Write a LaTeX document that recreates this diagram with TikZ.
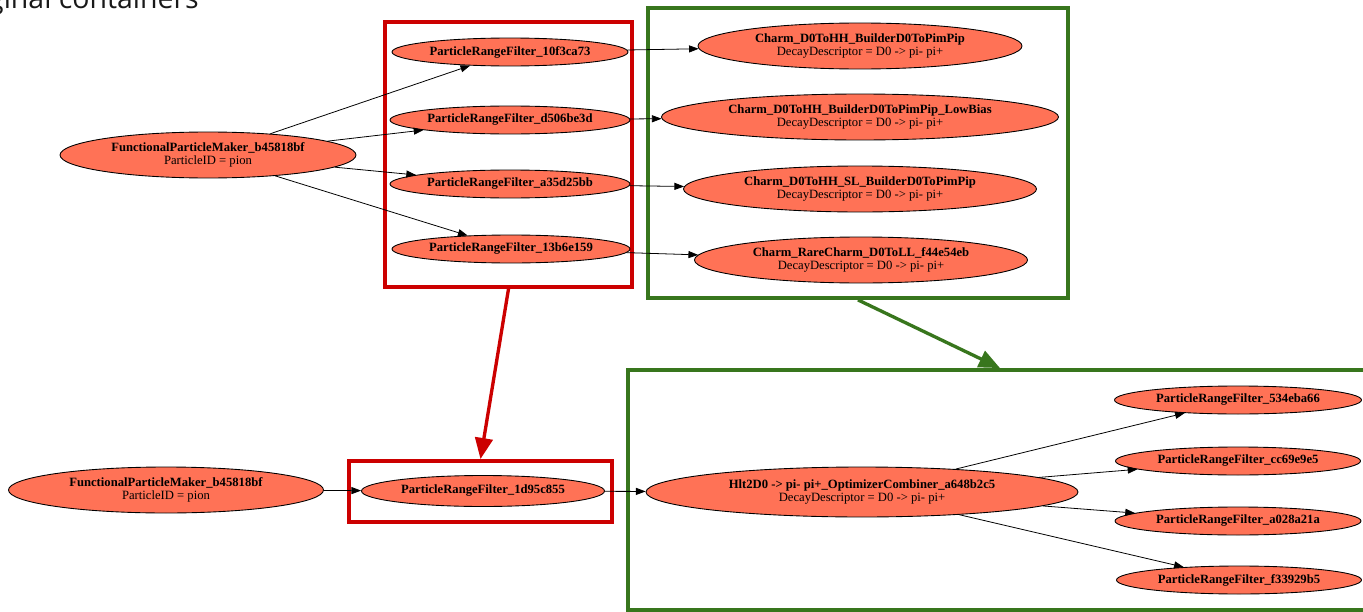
\documentclass[tikz,border=0pt]{standalone}
\usepackage{fontspec}
\setmainfont{Liberation Serif}
\newfontfamily\slidefont{Open Sans}
\usetikzlibrary{shapes.geometric, arrows.meta, fit}
\definecolor{coral}{RGB}{255,114,86}
\definecolor{slidered}{RGB}{204,0,0}
\definecolor{slidegreen}{RGB}{56,118,29}

\begin{document}
\begin{tikzpicture}[x=0.02cm, y=-0.02cm,
        alg/.style={ellipse, draw, fill=coral, line width=0.5pt, inner sep=0pt, align=center,
            font=\fontsize{7.2}{7.6}\selectfont, minimum width=#1*0.02cm},
        filt/.style={alg=#1, minimum height=0.56cm},
        maker/.style={alg=#1, minimum height=0.92cm},
        flow/.style={-{Triangle[length=5.5pt, width=4pt]}, line width=0.45pt},
        frame/.style={draw=#1, line width=2.2pt, inner sep=0pt},
        jump/.style={-{Triangle[length=12pt, width=10pt]}, line width=1.9pt}]
        \useasboundingbox (0,0) rectangle (1363,612);
        \clip (0,0) rectangle (1363,612);
        \node[anchor=base east, font=\slidefont\fontsize{16.2}{18}\selectfont, text=black!90]
            (caption) at (205,9) {Original containers};
        % original containers
        \node[frame=slidered, fit={(385,22) (632,287)}] (oldred) {};
        \node[frame=slidegreen, fit={(648,8) (1068,298)}] (oldgreen) {};
        \node[maker=296] (mk) at (208,155) {\textbf{FunctionalParticleMaker\_b45818bf}\\ParticleID = pion};
        \node[filt=236] (f1) at (510,52) {\textbf{ParticleRangeFilter\_10f3ca73}};
        \node[filt=240] (f2) at (510,120) {\textbf{ParticleRangeFilter\_d506be3d}};
        \node[filt=240] (f3) at (510,184) {\textbf{ParticleRangeFilter\_a35d25bb}};
        \node[filt=238] (f4) at (511,249) {\textbf{ParticleRangeFilter\_13b6e159}};
        \node[maker=324] (c1) at (860,46) {\textbf{Charm\_D0ToHH\_BuilderD0ToPimPip}\\DecayDescriptor = D0 -> pi- pi+};
        \node[maker=397] (c2) at (860,117) {\textbf{Charm\_D0ToHH\_BuilderD0ToPimPip\_LowBias}\\DecayDescriptor = D0 -> pi- pi+};
        \node[maker=353] (c3) at (860,189) {\textbf{Charm\_D0ToHH\_SL\_BuilderD0ToPimPip}\\DecayDescriptor = D0 -> pi- pi+};
        \node[maker=333] (c4) at (861,260) {\textbf{Charm\_RareCharm\_D0ToLL\_f44e54eb}\\DecayDescriptor = D0 -> pi- pi+};
        \foreach \i in {1,...,4}{
            \draw[flow] (mk) -- (f\i);
            \draw[flow] (f\i) -- (c\i);
        }
        % merged containers
        \node[frame=slidered, fit={(349,461) (612,522)}] (newred) {};
        \node[frame=slidegreen, fit={(628,370) (1372,610)}] (newgreen) {};
        \node[maker=315] (mk2) at (166,490) {\textbf{FunctionalParticleMaker\_b45818bf}\\ParticleID = pion};
        \node[filt=243, minimum height=0.62cm] (fm) at (483,491) {\textbf{ParticleRangeFilter\_1d95c855}};
        \node[maker=432, minimum height=1cm] (cb) at (862,492) {\textbf{Hlt2D0 -> pi- pi+\_OptimizerCombiner\_a648b2c5}\\DecayDescriptor = D0 -> pi- pi+};
        \node[filt=247] (r1) at (1238,400) {\textbf{ParticleRangeFilter\_534eba66}};
        \node[filt=245] (r2) at (1238,461) {\textbf{ParticleRangeFilter\_cc69e9e5}};
        \node[filt=246] (r3) at (1238,521) {\textbf{ParticleRangeFilter\_a028a21a}};
        \node[filt=245] (r4) at (1239,580) {\textbf{ParticleRangeFilter\_f33929b5}};
        \draw[flow] (mk2) -- (fm);
        \draw[flow] (fm) -- (cb);
        \foreach \i in {1,...,4}{
            \draw[flow] (cb) -- (r\i);
        }
        \draw[jump, slidered] (oldred.south) -- (newred.north);
        \draw[jump, slidegreen] (oldgreen.south) -- (newgreen.north);
\end{tikzpicture}
\end{document}
